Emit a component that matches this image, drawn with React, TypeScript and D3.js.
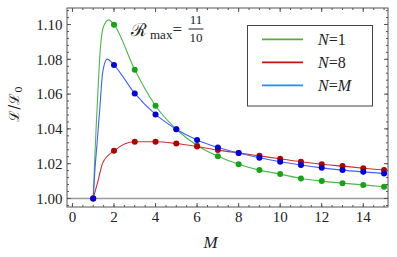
import React from 'react';
import * as d3 from 'd3';

// values, M = 1..15
const mValues = [1, 2, 3, 4, 5, 6, 7, 8, 9, 10, 11, 12, 13, 14, 15];
const n1Values = [1.0, 1.0999, 1.074, 1.0533, 1.0398, 1.0305, 1.0243, 1.0197, 1.0163, 1.014, 1.0115, 1.01, 1.0088, 1.0078, 1.0067];
const n8Values = [1.0, 1.0274, 1.0326, 1.0326, 1.0316, 1.0299, 1.0278, 1.0262, 1.0245, 1.0228, 1.0211, 1.0197, 1.0186, 1.0174, 1.0163];
const nMValues = [1.0, 1.0767, 1.0604, 1.0483, 1.0398, 1.0336, 1.0293, 1.0261, 1.0234, 1.0211, 1.0192, 1.0176, 1.0163, 1.0153, 1.0144];

const n1RiseM = [1.08, 1.17, 1.25, 1.33, 1.5, 1.75];
const n1Rise = [1.025, 1.048, 1.067, 1.084, 1.099, 1.1027];
const nMRiseM = [1.08, 1.18, 1.3, 1.46, 1.67];
const nMRise = [1.016, 1.031, 1.049, 1.0728, 1.0801];
const n8RiseM = [1.22, 1.46];
const n8Rise = [1.0096, 1.0205];

const xTicks = [0, 2, 4, 6, 8, 10, 12, 14];
const yTicks = [1.0, 1.02, 1.04, 1.06, 1.08, 1.1];

const W = 397, H = 257;
const left = 67, right = 388, top = 8, bottom = 207;

const serif = '"Liberation Serif", "DejaVu Serif", serif';

type Series = { label: string; values: number[]; riseM: number[]; rise: number[]; line: string; dot: string; legend: string };

const series: Series[] = [
  { label: '1', values: n1Values, riseM: n1RiseM, rise: n1Rise, line: '#4cb84c', dot: '#17a317', legend: '#5aab3e' },
  { label: '8', values: n8Values, riseM: n8RiseM, rise: n8Rise, line: '#c93232', dot: '#b00000', legend: '#cc1111' },
  { label: 'M', values: nMValues, riseM: nMRiseM, rise: nMRise, line: '#4060ff', dot: '#0000e0', legend: '#1e8cff' },
];

export default function App() {
  const x = d3.scaleLinear().domain([-0.262, 15.19]).range([left, right]);
  const y = d3.scaleLinear().domain([0.9951, 1.1095]).range([bottom, top]);

  const line = d3.line<[number, number]>()
    .x(d => x(d[0]))
    .y(d => y(d[1]))
    .curve(d3.curveMonotoneX);

  const xMinor = d3.range(0, 15.01, 0.5);
  const yMinor = d3.range(0.996, 1.109, 0.004);
  const frame = '#555';

  return (
    <div style={{ position: 'fixed', left: 0, top: 0 }}>
      <svg width={W} height={H} style={{ display: 'block', background: '#fff' }}>
        {/* baseline at 1 */}
        <line x1={left} x2={right} y1={y(1)} y2={y(1)} stroke="#9a9a9a" strokeWidth={1.3} />

        {series.map(s => {
          const pts: [number, number][] = mValues.map((m, i) => [m, s.values[i]] as [number, number])
            .concat(s.riseM.map((m, i) => [m, s.rise[i]] as [number, number]))
            .sort((a, b) => a[0] - b[0]);
          return (
            <g key={s.label}>
              <path d={line(pts) || ''} fill="none" stroke={s.line} strokeWidth={1.1} />
              {mValues.map((m, i) => (
                <circle key={m} cx={x(m)} cy={y(s.values[i])} r={3} fill={s.dot} />
              ))}
            </g>
          );
        })}

        {/* frame */}
        <rect x={left} y={top} width={right - left} height={bottom - top} fill="none" stroke={frame} strokeWidth={1} />
        {xMinor.map(v => (
          <g key={'xm' + v}>
            <line x1={x(v)} x2={x(v)} y1={bottom} y2={bottom - 2} stroke={frame} />
            <line x1={x(v)} x2={x(v)} y1={top} y2={top + 2} stroke={frame} />
          </g>
        ))}
        {xTicks.map(v => (
          <g key={'xt' + v}>
            <line x1={x(v)} x2={x(v)} y1={bottom} y2={bottom - 4} stroke={frame} />
            <line x1={x(v)} x2={x(v)} y1={top} y2={top + 4} stroke={frame} />
            <text x={x(v)} y={222} textAnchor="middle" fontFamily={serif} fontSize={15} fill="#222">{v}</text>
          </g>
        ))}
        {yMinor.map(v => (
          <g key={'ym' + v}>
            <line x1={left} x2={left + 2} y1={y(v)} y2={y(v)} stroke={frame} />
            <line x1={right} x2={right - 2} y1={y(v)} y2={y(v)} stroke={frame} />
          </g>
        ))}
        {yTicks.map(v => (
          <g key={'yt' + v}>
            <line x1={left} x2={left + 4} y1={y(v)} y2={y(v)} stroke={frame} />
            <line x1={right} x2={right - 4} y1={y(v)} y2={y(v)} stroke={frame} />
            <text x={62.5} y={y(v)} dy="0.35em" textAnchor="end" fontFamily={serif} fontSize={15} fill="#222">{v.toFixed(2)}</text>
          </g>
        ))}

        {/* axis labels */}
        <text x={210.5} y={248} textAnchor="middle" fontFamily={serif} fontStyle="italic" fontSize={17} fill="#222">M</text>
        <text transform="translate(19,104) rotate(-90)" textAnchor="middle" fontFamily='"DejaVu Serif", serif' fontSize={14} fill="#222">
          ℒ<tspan>/</tspan>ℒ<tspan fontSize={10} dy={3}>0</tspan>
        </text>

        {/* title */}
        <g fontFamily={serif} fill="#222">
          <text x={131} y={36} fontFamily='"DejaVu Serif", serif' fontSize={18}>ℛ</text>
          <text x={150} y={38.5} fontSize={13}>max</text>
          <text x={172.5} y={35} fontSize={17}>=</text>
          <text x={196} y={24} textAnchor="middle" fontSize={13}>11</text>
          <line x1={188.5} x2={203.5} y1={29} y2={29} stroke="#222" strokeWidth={1} />
          <text x={196} y={42} textAnchor="middle" fontSize={13}>10</text>
        </g>

        {/* legend */}
        <rect x={247.5} y={25.5} width={125} height={80.5} fill="#fff" stroke="#444" strokeWidth={1} />
        {series.map((s, i) => {
          const ly = 39.3 + i * 23;
          return (
            <g key={'lg' + s.label}>
              <line x1={262} x2={303} y1={ly} y2={ly} stroke={s.legend} strokeWidth={1.8} />
              <text x={318} y={ly} dy="0.35em" fontFamily={serif} fontSize={16} fill="#222">
                <tspan fontStyle="italic">N</tspan>=<tspan fontStyle={s.label === 'M' ? 'italic' : 'normal'}>{s.label}</tspan>
              </text>
            </g>
          );
        })}
      </svg>
    </div>
  );
}
